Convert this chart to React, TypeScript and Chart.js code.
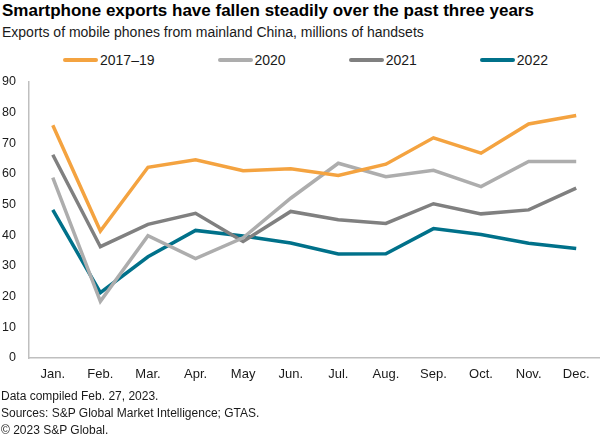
import React, { useEffect, useRef } from "react";
import { Chart, registerables } from "chart.js";

Chart.register(...registerables);

const months = ["Jan.", "Feb.", "Mar.", "Apr.", "May", "Jun.", "Jul.", "Aug.", "Sep.", "Oct.", "Nov.", "Dec."];
const yTicks = [0, 10, 20, 30, 40, 50, 60, 70, 80, 90];

const series201719 = [75.9, 41.4, 62.2, 64.6, 61.1, 61.7, 59.5, 63.2, 71.8, 66.8, 76.3, 79.1];
const series2020 = [58.8, 18.5, 39.9, 32.4, 39.2, 52.1, 63.5, 59.1, 61.2, 55.9, 64.1, 64.1];
const series2021 = [66.3, 36.3, 43.6, 47.2, 38.0, 47.8, 45.1, 43.9, 50.3, 47.0, 48.3, 55.4];
const series2022 = [48.3, 21.3, 33.0, 41.6, 39.8, 37.5, 33.9, 34.0, 42.2, 40.3, 37.4, 35.7];

const seriesLabels = ["2017\u201319", "2020", "2021", "2022"];
const seriesColors = ["#F4A340", "#ADADAD", "#808080", "#00718A"];
const seriesData = [series201719, series2020, series2021, series2022];

const FONT = "'Liberation Sans', Arial, Helvetica, sans-serif";

export default function App() {
  const canvasRef = useRef<HTMLCanvasElement | null>(null);

  useEffect(() => {
    if (!canvasRef.current) return;
    const chart = new Chart(canvasRef.current, {
      type: "line",
      data: {
        labels: months,
        datasets: seriesLabels.map((label, i) => ({
          label,
          data: seriesData[i],
          borderColor: seriesColors[i],
          backgroundColor: seriesColors[i],
          borderWidth: 3.5,
          pointRadius: 0,
          pointHoverRadius: 0,
          tension: 0,
          fill: false,
          borderJoinStyle: "miter" as const,
        })),
      },
      options: {
        animation: false,
        responsive: false,
        devicePixelRatio: 1,
        layout: { padding: { top: 12, right: 0, bottom: 0, left: 0 } },
        plugins: {
          legend: { display: false },
          tooltip: { enabled: false },
          title: { display: false },
        },
        scales: {
          x: {
            type: "category",
            offset: true,
            grid: { display: false, drawTicks: false },
            border: { display: true, color: "#BFBFBF", width: 1.5 },
            ticks: {
              color: "#1a1a1a",
              font: { family: FONT, size: 13 },
              padding: 9,
              maxRotation: 0,
              autoSkip: false,
            },
            afterFit: (scale: any) => {
              scale.height = 32;
            },
          },
          y: {
            min: 0,
            max: 90,
            grid: { display: false, drawTicks: false },
            border: { display: true, color: "#BFBFBF", width: 1.5 },
            afterBuildTicks: (scale: any) => {
              scale.ticks = yTicks.map((v) => ({ value: v }));
            },
            ticks: {
              color: "#1a1a1a",
              font: { family: FONT, size: 12.5 },
              padding: 13,
            },
            afterFit: (scale: any) => {
              scale.width = 29;
              scale.paddingTop = 8;
              scale.paddingBottom = 8;
            },
          },
        },
      },
    });
    return () => chart.destroy();
  }, []);

  return (
    <div
      style={{
        position: "absolute",
        left: 0,
        top: 0,
        width: 600,
        height: 437,
        background: "#fff",
        fontFamily: FONT,
        overflow: "hidden",
      }}
    >
      <div
        style={{
          position: "absolute",
          left: 2,
          top: 0,
          fontSize: 17,
          lineHeight: "21px",
          fontWeight: "bold",
          color: "#000",
          whiteSpace: "nowrap",
        }}
      >
        Smartphone exports have fallen steadily over the past three years
      </div>
      <div
        style={{
          position: "absolute",
          left: 2,
          top: 23,
          fontSize: 14,
          lineHeight: "18px",
          color: "#1a1a1a",
          whiteSpace: "nowrap",
        }}
      >
        Exports of mobile phones from mainland China, millions of handsets
      </div>
      <div
        style={{
          position: "absolute",
          left: 63,
          top: 51,
          height: 18,
          display: "flex",
          alignItems: "center",
          gap: 63,
          fontSize: 14,
          color: "#1a1a1a",
          whiteSpace: "nowrap",
        }}
      >
        {seriesLabels.map((label, i) => (
          <div key={label} style={{ display: "flex", alignItems: "center" }}>
            <span
              style={{
                display: "inline-block",
                width: 35,
                height: 4,
                borderRadius: 2,
                background: seriesColors[i],
                marginRight: 2,
              }}
            />
            <span style={{ lineHeight: "18px" }}>{label}</span>
          </div>
        ))}
      </div>
      <canvas
        ref={canvasRef}
        width={600}
        height={320}
        style={{ position: "absolute", left: 0, top: 70, width: 600, height: 320 }}
      />
      <div
        style={{
          position: "absolute",
          left: 1,
          top: 388,
          fontSize: 12,
          lineHeight: "17px",
          color: "#1a1a1a",
          whiteSpace: "nowrap",
        }}
      >
        <div>Data compiled Feb. 27, 2023.</div>
        <div>Sources: S&amp;P Global Market Intelligence; GTAS.</div>
        <div>© 2023 S&amp;P Global.</div>
      </div>
    </div>
  );
}
